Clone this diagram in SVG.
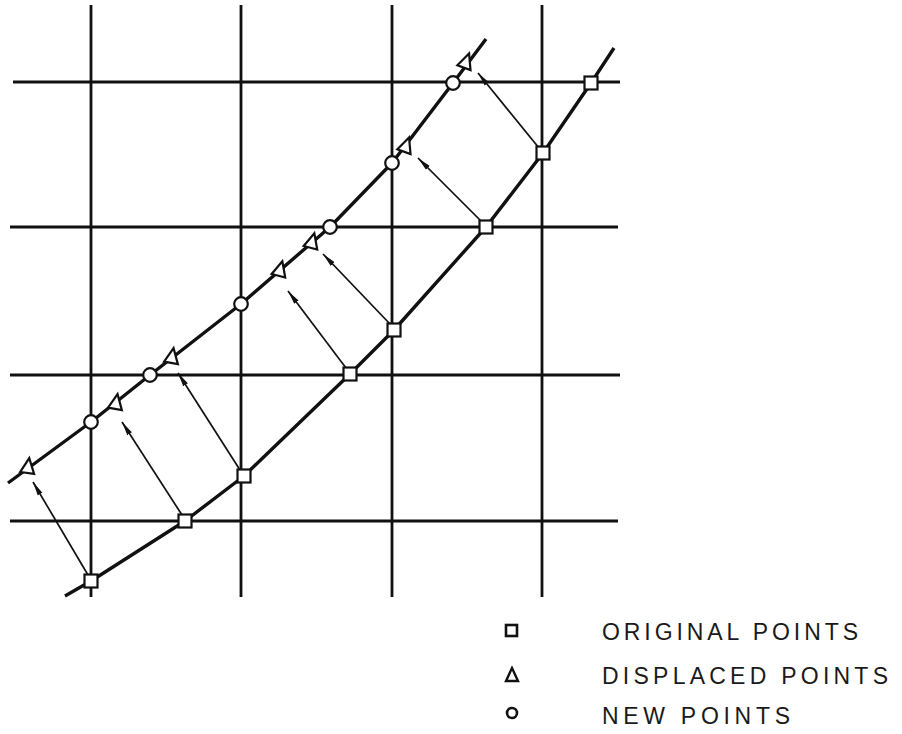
<svg xmlns="http://www.w3.org/2000/svg" xmlns:xlink="http://www.w3.org/1999/xlink" width="902" height="734" viewBox="0 0 902 734">
<style>
.grid{stroke:#111;stroke-width:2.8;fill:none}
.curve{stroke:#111;stroke-width:3.4;fill:none;stroke-linejoin:round}
.arr{stroke:#111;stroke-width:1.7;fill:none;marker-end:url(#ah)}
.sq{fill:#fff;stroke:#111;stroke-width:2.2}
.ci{fill:#fff;stroke:#111;stroke-width:2.2}
.tr{fill:#fff;stroke:#111;stroke-width:2.2;stroke-linejoin:miter}
.lbl{font-family:"Liberation Sans",Arial,sans-serif;font-size:23px;fill:#1a1a1a}
</style>
<defs>
<marker id="ah" viewBox="0 0 14 6" refX="14" refY="3" markerWidth="14" markerHeight="6" markerUnits="userSpaceOnUse" orient="auto">
<path d="M0,0.3 L14,3 L0,5.7 Z" fill="#111"/>
</marker>
<rect id="sqr" x="-6.5" y="-6.5" width="13" height="13" class="sq"/>
<circle id="cir" r="6.8" class="ci"/>
<polygon id="tri" points="0,-9 7,6 -7,6" class="tr"/>
</defs>
<rect width="902" height="734" fill="#fff"/>
<g id="grid">
<line class="grid" x1="91" y1="5" x2="91" y2="597"/>
<line class="grid" x1="241" y1="5" x2="241" y2="597"/>
<line class="grid" x1="392" y1="5" x2="392" y2="597"/>
<line class="grid" x1="542" y1="5" x2="542" y2="597"/>
<line class="grid" x1="13" y1="82" x2="620" y2="82"/>
<line class="grid" x1="10" y1="227" x2="618" y2="227"/>
<line class="grid" x1="10" y1="375" x2="620" y2="375"/>
<line class="grid" x1="10" y1="521" x2="618" y2="521"/>
</g>
<g id="curves">
<polyline class="curve" points="65,596 91,581 185,521 244,476 350,374 394,330 486,227 543,153 591,83 614,48"/>
<polyline class="curve" points="8,483 91,422 150,375 241,304 330,227 392,163 453,83 486,39"/>
</g>
<g id="connectors">
<line class="arr" x1="88" y1="575" x2="33" y2="482"/>
<line class="arr" x1="182" y1="515" x2="122" y2="422"/>
<line class="arr" x1="240" y1="470" x2="178" y2="373"/>
<line class="arr" x1="346" y1="368" x2="288" y2="291"/>
<line class="arr" x1="390" y1="324" x2="323" y2="254"/>
<line class="arr" x1="482" y1="222" x2="418" y2="158"/>
<line class="arr" x1="539" y1="148" x2="478" y2="73"/>
</g>
<g id="original-points">
<g id="o1"><use xlink:href="#sqr" transform="translate(91,581)"/></g>
<g id="o2"><use xlink:href="#sqr" transform="translate(185,521)"/></g>
<g id="o3"><use xlink:href="#sqr" transform="translate(244,476)"/></g>
<g id="o4"><use xlink:href="#sqr" transform="translate(350,374)"/></g>
<g id="o5"><use xlink:href="#sqr" transform="translate(394,330)"/></g>
<g id="o6"><use xlink:href="#sqr" transform="translate(486,227)"/></g>
<g id="o7"><use xlink:href="#sqr" transform="translate(543,153)"/></g>
<g id="o8"><use xlink:href="#sqr" transform="translate(591,83)"/></g>
</g>
<g id="new-points">
<g id="n1"><use xlink:href="#cir" transform="translate(91,422)"/></g>
<g id="n2"><use xlink:href="#cir" transform="translate(150,375)"/></g>
<g id="n3"><use xlink:href="#cir" transform="translate(241,304)"/></g>
<g id="n4"><use xlink:href="#cir" transform="translate(330,227)"/></g>
<g id="n5"><use xlink:href="#cir" transform="translate(392,163)"/></g>
<g id="n6"><use xlink:href="#cir" transform="translate(453,83)"/></g>
</g>
<g id="displaced-points">
<g id="d1"><use xlink:href="#tri" transform="translate(28,467) rotate(8)"/></g>
<g id="d2"><use xlink:href="#tri" transform="translate(116,403) rotate(10)"/></g>
<g id="d3"><use xlink:href="#tri" transform="translate(172,357) rotate(10)"/></g>
<g id="d4"><use xlink:href="#tri" transform="translate(280,270) rotate(15)"/></g>
<g id="d5"><use xlink:href="#tri" transform="translate(312,242) rotate(15)"/></g>
<g id="d6"><use xlink:href="#tri" transform="translate(406,146) rotate(20)"/></g>
<g id="d7"><use xlink:href="#tri" transform="translate(466,62) rotate(20)"/></g>
</g>
<g id="legend">
<rect x="506" y="625" width="11" height="11" fill="none" stroke="#111" stroke-width="2.6"/>
<polygon points="512,668 518,681 506,681" fill="none" stroke="#111" stroke-width="2.4"/>
<circle cx="512" cy="713" r="5" fill="none" stroke="#111" stroke-width="2.6"/>
<text class="lbl" x="602" y="640" textLength="256" lengthAdjust="spacing">ORIGINAL POINTS</text>
<text class="lbl" x="602" y="684" textLength="286" lengthAdjust="spacing">DISPLACED POINTS</text>
<text class="lbl" x="602" y="724" textLength="188" lengthAdjust="spacing">NEW POINTS</text>
</g>
</svg>
